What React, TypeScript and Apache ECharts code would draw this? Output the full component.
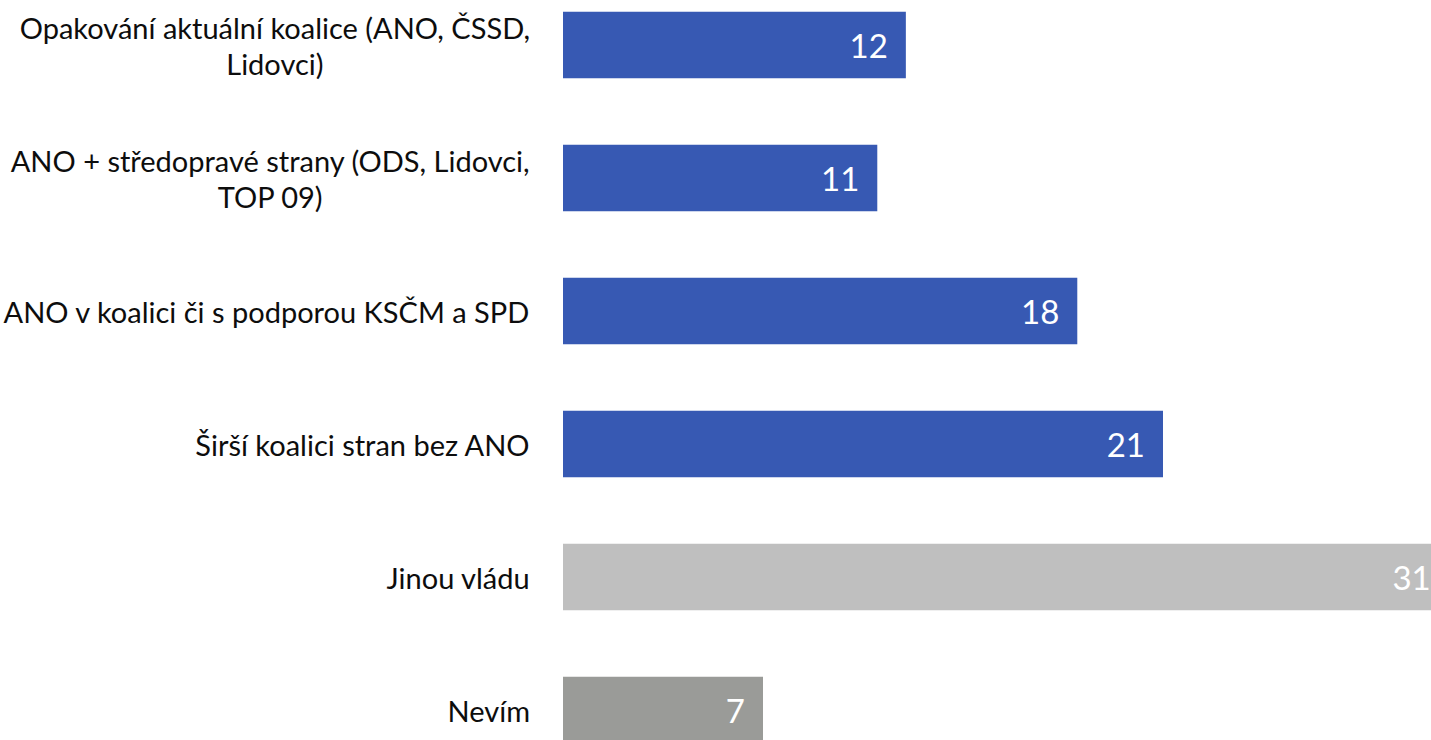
import React, { useEffect, useRef } from "react";
import * as echarts from "echarts";

const categories = [
  "Opakování aktuální koalice (ANO, ČSSD,\nLidovci)",
  "ANO + středopravé strany (ODS, Lidovci,\nTOP 09)",
  "ANO v koalici či s podporou KSČM a SPD",
  "Širší koalici stran bez ANO",
  "Jinou vládu",
  "Nevím",
];
const values = [12, 11, 18, 21, 31, 7];
const barColors = ["#3759B3", "#3759B3", "#3759B3", "#3759B3", "#BFBFBF", "#9A9B98"];

export default function App() {
  const ref = useRef<HTMLDivElement>(null);
  useEffect(() => {
    if (!ref.current) return;
    const chart = echarts.init(ref.current, null, { renderer: "svg" });
    chart.setOption({
      animation: false,
      grid: {
        left: 563,
        right: -132,
        top: -21.5,
        bottom: -36.5,
        containLabel: false,
        outerBoundsMode: "none",
      },
      xAxis: { type: "value", min: 0, max: 35, show: false },
      yAxis: {
        type: "category",
        inverse: true,
        data: categories,
        axisLine: { show: false },
        axisTick: { show: false },
        splitLine: { show: false },
        axisLabel: {
          margin: 33,
          align: "right",
          formatter: (v: string) =>
            v
              .split("\n")
              .map((l) => `{c|${l}}`)
              .join("\n"),
          rich: {
            c: {
              align: "center",
              fontFamily: "Lato",
              fontSize: 29,
              lineHeight: 36,
              color: "#0D0D0D",
            },
          },
        },
      },
      series: [
        {
          type: "bar",
          barCategoryGap: "50%",
          data: values.map((v, i) => ({ value: v, itemStyle: { color: barColors[i] } })),
          label: {
            show: true,
            position: "insideRight",
            distance: 18,
            color: "#FFFFFF",
            fontFamily: "Lato",
            fontSize: 33,
          },
        },
      ],
    });
    return () => chart.dispose();
  }, []);
  return (
    <div
      ref={ref}
      style={{ position: "absolute", left: 0, top: 0, width: 1431, height: 740 }}
    />
  );
}
